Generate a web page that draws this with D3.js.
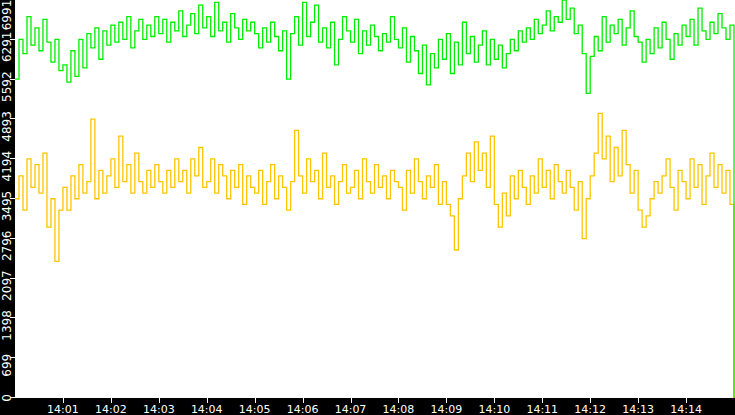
<!DOCTYPE html>
<html>
<head>
<meta charset="utf-8">
<script src="https://cdn.jsdelivr.net/npm/d3@7"></script>
<style>
  body { margin: 0; background: #fff; }
  text { font-family: "DejaVu Sans", sans-serif; }
</style>
</head>
<body>
<div id="chart"></div>
<script>
// samples every 5 seconds from 14:00:00
const greenValues = [
  5600, 6300, 6050, 6700, 6200, 6500, 6100, 6650, 6250, 5900, 6300, 5750,
  5850, 5550, 6100, 5650, 6300, 5800, 6400, 6150, 6500, 5950, 6450, 6200,
  6550, 6250, 6600, 6300, 6700, 6150, 6450, 6650, 6300, 6550, 6350, 6700,
  6400, 6650, 6250, 6600, 6450, 6800, 6350, 6550, 6750, 6400, 6900, 6500,
  6700, 6350, 6950, 6450, 6600, 6250, 6750, 6500, 6300, 6650, 6450, 6600,
  6400, 6150, 6500, 6250, 6600, 6350, 6100, 6450, 5600, 6400, 6700, 6200,
  6950, 6350, 6600, 6900, 6250, 6500, 6150, 6600, 5850, 6300, 6700, 6450,
  6250, 6650, 6050, 6450, 6200, 6550, 6350, 6100, 6400, 6250, 6700, 6300,
  6150, 6500, 5900, 6350, 6100, 5700, 6200, 5500, 6050, 5800, 6300, 5950,
  6400, 5700, 6250, 5850, 6600, 6050, 6350, 5900, 6200, 6450, 5850, 6300,
  5950, 6200, 5800, 6050, 6300, 6100, 6450, 6250, 6500, 6300, 6650, 6400,
  6550, 6800, 6450, 6700, 6600, 6990, 6650, 6850, 6400, 6550, 6050, 5350,
  6000, 6350, 6100, 6700, 6250, 6550, 6400, 6650, 6200, 6500, 6800, 6350,
  6250, 5900, 6300, 6050, 6500, 6150, 6600, 6300, 5950, 6400, 6200, 6550,
  6350, 6650, 6200, 6850, 6450, 6300, 6600, 6400, 6750, 6500, 6300, 6550
];
const yellowValues = [
  3500, 3900, 3300, 4200, 3700, 4100, 3600, 4300, 3000, 3500, 2400, 3300,
  3700, 3300, 3900, 3500, 4100, 3600, 3800, 4900, 3500, 4000, 3600, 3900,
  4200, 3700, 4600, 3800, 4100, 3600, 4300, 3800, 3600, 4000, 3700, 4100,
  3800, 3600, 4000, 3700, 4200, 3800, 4000, 3600, 4200, 3900, 4400, 3700,
  3800, 4200, 3600, 4100, 3900, 3500, 4000, 3700, 4100, 3400, 3900, 3700,
  3600, 4000, 3400, 3800, 4100, 3500, 3900, 3700, 3300, 3800, 4700, 3900,
  3600, 4200, 3800, 4000, 3500, 4300, 3700, 3900, 3400, 3800, 4100, 3600,
  3700, 4000, 3500, 4200, 3800, 3600, 4100, 3700, 3900, 3500, 4000, 3800,
  3700, 3300, 4000, 3600, 4200, 3800, 3500, 3900, 3700, 4100, 3400, 3800,
  3400, 3200, 2600, 3500, 3900, 4300, 3800, 4500, 4000, 4300, 3700, 4600,
  3400, 3000, 3600, 3200, 3900, 3500, 4000, 3700, 3400, 3900, 3600, 4200,
  3700, 4000, 3500, 4100, 3800, 3600, 4000, 3700, 3300, 3800, 2800, 3500,
  3900, 4300, 5000, 4200, 4600, 3800, 4400, 3900, 4700, 4100, 3600, 4000,
  3300, 3000, 3200, 3500, 3800, 3600, 3900, 4200, 3700, 3300, 4000, 3800,
  3500, 4200, 3700, 4100, 3400, 3900, 4300, 3700, 4100, 3600, 4000, 3400
];
const yTickValues = [0, 699, 1398, 2097, 2796, 3495, 4194, 4893, 5592, 6291, 6991];

const width = 735, height = 415;
const margin = {top: 0, right: 0, bottom: 17, left: 15};

const svg = d3.select("#chart")
  .append("svg")
  .attr("width", width)
  .attr("height", height);

// black frame strips
svg.append("rect").attr("x", 0).attr("y", 0).attr("width", margin.left).attr("height", height).attr("fill", "#000");
svg.append("rect").attr("x", 0).attr("y", height - margin.bottom).attr("width", width).attr("height", margin.bottom).attr("fill", "#000");

const start = new Date(2020, 0, 1, 14, 0, 0);
const step = 5000;
const toPoints = vals => {
  const pts = vals.map((v, i) => ({t: new Date(+start + i * step), v}));
  const end = new Date(+start + vals.length * step);
  pts.push({t: end, v: vals[vals.length - 1]});
  pts.push({t: end, v: 0});
  return pts;
};

const xScale = d3.scaleTime()
  .domain([start, new Date(+start + greenValues.length * step)])
  .range([margin.left, width - 1]);

const yScale = d3.scaleLinear()
  .domain([0, 6991])
  .range([height - margin.bottom, 0]);

const line = d3.line()
  .x(d => xScale(d.t))
  .y(d => yScale(d.v))
  .curve(d3.curveStepAfter);

[[yellowValues, "#ffc400"], [greenValues, "#00ee00"]].forEach(([vals, color]) => {
  svg.append("path")
    .datum(toPoints(vals))
    .attr("fill", "none")
    .attr("stroke", color)
    .attr("stroke-width", 1.3)
    .attr("d", line);
});

// y axis: ticks and rotated labels
const yTicks = svg.append("g").selectAll("g")
  .data(yTickValues)
  .enter().append("g");
yTicks.append("line")
  .attr("x1", 10).attr("x2", 15)
  .attr("y1", d => Math.round(yScale(d)) - 0.5)
  .attr("y2", d => Math.round(yScale(d)) - 0.5)
  .attr("stroke", "#fff");
yTicks.append("text")
  .attr("transform", d => `translate(11,${Math.min(398, Math.max(15, yScale(d) + 7))}) rotate(-90)`)
  .attr("fill", "#fff")
  .attr("font-size", 12)
  .attr("text-anchor", "middle")
  .text(d => d);

// x axis
const xTickValues = d3.range(1, 15).map(m => new Date(+start + m * 60000));
const xTicks = svg.append("g").selectAll("g")
  .data(xTickValues)
  .enter().append("g");
xTicks.append("line")
  .attr("x1", d => Math.round(xScale(d)) + 0.5)
  .attr("x2", d => Math.round(xScale(d)) + 0.5)
  .attr("y1", height - margin.bottom)
  .attr("y2", height - margin.bottom + 5)
  .attr("stroke", "#fff");
xTicks.append("text")
  .attr("x", d => xScale(d))
  .attr("y", height - 2)
  .attr("fill", "#fff")
  .attr("font-size", 11)
  .attr("text-anchor", "middle")
  .text(d3.timeFormat("%H:%M"));
</script>
</body>
</html>
